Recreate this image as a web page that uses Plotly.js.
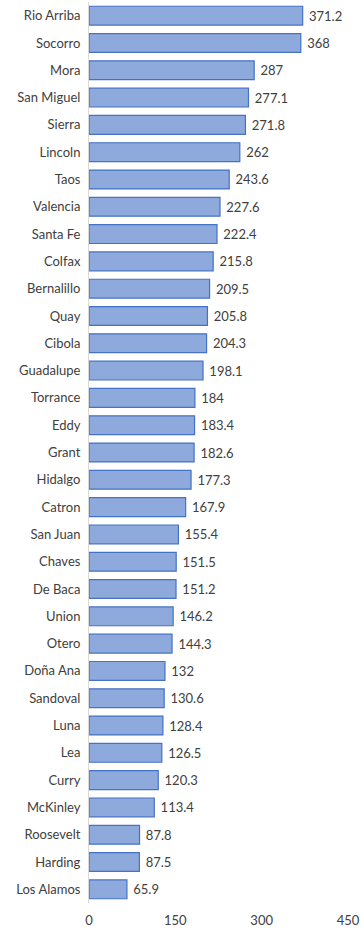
<!DOCTYPE html>
<html><head><meta charset="utf-8">
<script src="https://cdn.plot.ly/plotly-3.0.1.min.js"></script>
<style>html,body{margin:0;padding:0;background:#fff}#c{width:363px;height:930px}</style>
</head><body><div id="c"></div>
<script>
const counties = ["Rio Arriba","Socorro","Mora","San Miguel","Sierra","Lincoln","Taos","Valencia","Santa Fe","Colfax","Bernalillo","Quay","Cibola","Guadalupe","Torrance","Eddy","Grant","Hidalgo","Catron","San Juan","Chaves","De Baca","Union","Otero","Doña Ana","Sandoval","Luna","Lea","Curry","McKinley","Roosevelt","Harding","Los Alamos"];
const values = [371.2,368,287,277.1,271.8,262,243.6,227.6,222.4,215.8,209.5,205.8,204.3,198.1,184,183.4,182.6,177.3,167.9,155.4,151.5,151.2,146.2,144.3,132,130.6,128.4,126.5,120.3,113.4,87.8,87.5,65.9];
const xTicks = [0,150,300,450];

const font = "Lato, 'Open Sans', sans-serif";
Plotly.newPlot('c', [{
  type: 'bar',
  orientation: 'h',
  y: counties,
  x: values,
  text: values.map(v => '\u00a0' + v),
  textposition: 'outside',
  cliponaxis: false,
  textfont: {family: font, size: 13, color: '#404040'},
  marker: {color: '#8EA9DB', line: {color: '#4472C4', width: 1.2}},
  hoverinfo: 'none'
}], {
  width: 363, height: 930,
  margin: {l: 89, r: 15, t: 2, b: 27},
  paper_bgcolor: '#fff', plot_bgcolor: '#fff',
  bargap: 0.31,
  showlegend: false,
  font: {family: font, size: 13, color: '#404040'},
  xaxis: {range: [0, 450], tickvals: xTicks, ticktext: xTicks.map(String), showgrid: false, zeroline: false, showline: false, ticks: '', ticklabelstandoff: 8, fixedrange: true, tickfont: {size: 13, color: '#404040'}},
  yaxis: {autorange: 'reversed', showgrid: false, zeroline: false, showline: true, linecolor: '#D9D9D9', linewidth: 1, ticks: '', ticklabelstandoff: 5, tickfont: {size: 13, color: '#404040'}, fixedrange: true}
}, {displayModeBar: false, staticPlot: true});
</script></body></html>
